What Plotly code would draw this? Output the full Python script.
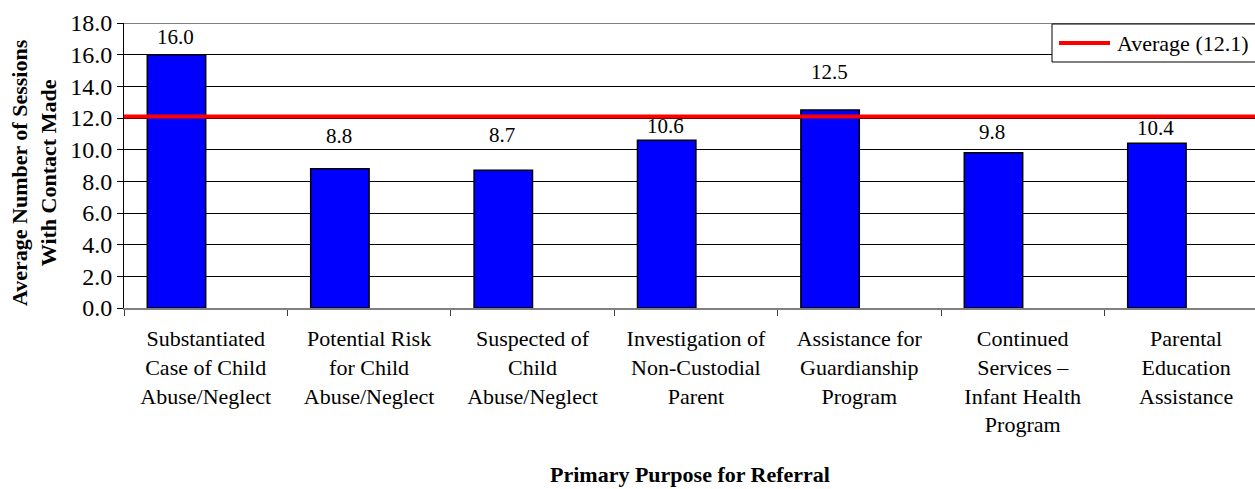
import plotly.graph_objects as go

# Average sessions per primary referral purpose
categories = [
    "Substantiated<br>Case of Child<br>Abuse/Neglect",
    "Potential Risk<br>for Child<br>Abuse/Neglect",
    "Suspected of<br>Child<br>Abuse/Neglect",
    "Investigation of<br>Non-Custodial<br>Parent",
    "Assistance for<br>Guardianship<br>Program",
    "Continued<br>Services \u2013<br>Infant Health<br>Program",
    "Parental<br>Education<br>Assistance",
]
sessions = [16.0, 8.8, 8.7, 10.6, 12.5, 9.8, 10.4]
AVERAGE = 12.1

# hand-placed value labels: extra lift (px) above each bar top
label_lift_px = [4, 19, 21, 0, 24, 6.5, 1]

FONT = '"Liberation Serif", "Times New Roman", serif'
W, H = 1255, 489
ML, MT, MB = 124, 23, 181
SLOT_PX = 163.4
plot_w = W - ML
x_hi = -0.5 + plot_w / SLOT_PX
BAR_W = 0.3575

fig = go.Figure()
fig.add_trace(go.Bar(
    x=categories, y=sessions,
    width=BAR_W, offset=-BAR_W,
    marker=dict(color="#0000FF", line=dict(color="black", width=1.5)),
    showlegend=False, hoverinfo="x+y",
))

plot_h = H - MT - MB


def px_to_paper_x(px):
    return (px - ML) / plot_w


def px_to_paper_y(py):
    return (H - MB - py) / plot_h


shapes = [
    # top border of the plot area
    dict(type="line", xref="paper", yref="y", x0=0, x1=1, y0=18, y1=18,
         line=dict(color="#808080", width=2), layer="below"),
    # average reference line
    dict(type="line", xref="paper", yref="y", x0=0, x1=1, y0=AVERAGE, y1=AVERAGE,
         line=dict(color="#FF0000", width=4), layer="above"),
    # legend frame
    dict(type="rect", xref="paper", yref="paper",
         x0=px_to_paper_x(1052), x1=px_to_paper_x(1270),
         y0=px_to_paper_y(62), y1=px_to_paper_y(24),
         fillcolor="white", line=dict(color="black", width=1), layer="above"),
    # legend line sample
    dict(type="line", xref="paper", yref="paper",
         x0=px_to_paper_x(1059), x1=px_to_paper_x(1110),
         y0=px_to_paper_y(43), y1=px_to_paper_y(43),
         line=dict(color="#FF0000", width=4), layer="above"),
]

bar_half_px = BAR_W * SLOT_PX / 2
annotations = []
for cat, val, lift in zip(categories, sessions, label_lift_px):
    annotations.append(dict(
        x=cat, y=val, xref="x", yref="y", text=f"{val:.1f}",
        showarrow=False, xanchor="center", yanchor="bottom",
        xshift=-bar_half_px - 1, yshift=lift,
        font=dict(family=FONT, size=21, color="black"),
    ))

annotations += [
    dict(xref="paper", yref="paper", x=px_to_paper_x(1115), y=px_to_paper_y(43),
         text=f"Average ({AVERAGE:.1f})", showarrow=False,
         xanchor="left", yanchor="middle",
         font=dict(family=FONT, size=22, color="black")),
    dict(xref="paper", yref="paper", x=px_to_paper_x(690), y=0,
         yanchor="bottom", yshift=-MB,
         text="<b>Primary Purpose for Referral</b>", showarrow=False,
         xanchor="center",
         font=dict(family=FONT, size=22, color="black")),
    dict(xref="paper", yref="paper", x=px_to_paper_x(34), y=px_to_paper_y(173),
         text="<b>Average Number of Sessions<br>With Contact Made</b>",
         showarrow=False, textangle=-90, xanchor="center", yanchor="middle",
         font=dict(family=FONT, size=22, color="black")),
]

fig.update_layout(
    width=W, height=H,
    margin=dict(l=ML, r=0, t=MT, b=MB, pad=0),
    paper_bgcolor="white", plot_bgcolor="white",
    font=dict(family=FONT, color="black"),
    shapes=shapes, annotations=annotations,
    xaxis=dict(
        type="category", range=[-0.5, x_hi],
        tickson="boundaries", ticks="outside", ticklen=6, tickcolor="#404040",
        showline=True, linecolor="#808080", linewidth=2,
        showgrid=False, ticklabelstandoff=10,
        tickfont=dict(family=FONT, size=22, color="black"),
    ),
    yaxis=dict(
        range=[0, 18], dtick=2, tickformat=".1f",
        ticks="outside", ticklen=6, tickcolor="black",
        showline=True, linecolor="black", linewidth=1,
        showgrid=True, gridcolor="black", gridwidth=1, zeroline=False,
        tickfont=dict(family=FONT, size=24, color="black"),
    ),
)

fig.write_html("out.html")
